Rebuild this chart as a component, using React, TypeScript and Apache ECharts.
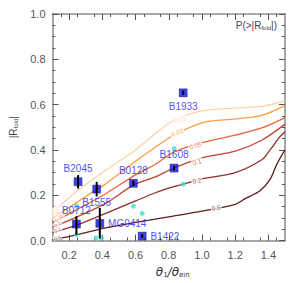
import React, { useEffect, useRef } from "react";
import * as echarts from "echarts";

// Lens systems
const lensNames = ["B1933", "B1608", "B0128", "B2045", "B1555", "B0712", "MG0414", "B1422"];
const lensX = [0.887, 0.832, 0.587, 0.254, 0.366, 0.244, 0.385, 0.64];
const lensY = [0.652, 0.32, 0.253, 0.26, 0.227, 0.073, 0.076, 0.02];
const lensLow = [0.642, 0.31, 0.241, 0.23, 0.195, 0.026, 0.009, 0.012];
const lensHigh = [0.662, 0.33, 0.265, 0.289, 0.259, 0.108, 0.144, 0.028];
const lensLabelPos = ["bottom", "top", "top", "top", "bottom", "top", "right", "right"];

// Cyan points
const cyanX = [0.244, 0.245, 0.362, 0.395, 0.587, 0.64, 0.832, 0.887];
const cyanY = [0.026, 0.152, 0.012, 0.012, 0.152, 0.12, 0.406, 0.249];

// Contours of P(>|R_fold|)
const contourLevels = ["0.01", "0.02", "0.05", "0.1", "0.2", "0.5"];
const c001X = [0.1, 0.25, 0.42, 0.6, 0.715, 0.83, 1.0, 1.2, 1.36, 1.5];
const c001Y = [0.125, 0.22, 0.31, 0.4, 0.47, 0.53, 0.572, 0.585, 0.592, 0.618];
const c002X = [0.1, 0.25, 0.366, 0.42, 0.6, 0.715, 0.83, 1.0, 1.2, 1.36, 1.5];
const c002Y = [0.1, 0.17, 0.226, 0.25, 0.35, 0.41, 0.465, 0.52, 0.537, 0.553, 0.596];
const c005X = [0.1, 0.25, 0.42, 0.6, 0.715, 0.83, 1.0, 1.2, 1.36, 1.5];
const c005Y = [0.08, 0.138, 0.207, 0.29, 0.335, 0.39, 0.432, 0.465, 0.497, 0.543];
const c01X = [0.1, 0.25, 0.42, 0.587, 0.715, 0.83, 1.0, 1.2, 1.36, 1.5];
const c01Y = [0.06, 0.105, 0.164, 0.245, 0.28, 0.32, 0.365, 0.395, 0.443, 0.514];
const c02X = [0.1, 0.25, 0.42, 0.6, 0.715, 0.83, 0.887, 1.0, 1.2, 1.36, 1.41, 1.46, 1.5];
const c02Y = [0.035, 0.069, 0.12, 0.175, 0.21, 0.238, 0.249, 0.272, 0.3, 0.357, 0.4, 0.45, 0.48];
const c05X = [0.1, 0.25, 0.42, 0.6, 0.8, 1.0, 1.2, 1.26, 1.35, 1.41, 1.45, 1.5];
const c05Y = [0.003, 0.026, 0.056, 0.08, 0.105, 0.13, 0.16, 0.185, 0.22, 0.27, 0.336, 0.4];
const contourXs = [c001X, c002X, c005X, c01X, c02X, c05X];
const contourYs = [c001Y, c002Y, c005Y, c01Y, c02Y, c05Y];
const contourColors = ["#fdd3a4", "#fb9d3e", "#e9643a", "#c04536", "#922f2c", "#5b1f1d"];

// contour label anchors (data coords)
const midLabelX = [0.868, 0.85, 0.96, 0.97, 0.97, 1.085];
const midLabelY = [0.534, 0.478, 0.42, 0.348, 0.265, 0.145];
const midLabelRot = [14, 20, 16, 14, 10, 8];
const leftLabelX = [0.115, 0.122, 0.14, 0.13, 0.13, 0.13];
const leftLabelY = [0.14, 0.115, 0.1, 0.072, 0.047, 0.012];
const leftLabelRot = [55, 50, 40, 32, 25, 15];

const xMajor = [0.2, 0.4, 0.6, 0.8, 1.0, 1.2, 1.4];
const yMajor = [0, 0.2, 0.4, 0.6, 0.8, 1.0];

const FONT = "Liberation Sans";

export default function App() {
  const ref = useRef<HTMLDivElement>(null);
  useEffect(() => {
    if (!ref.current) return;
    const chart = echarts.init(ref.current, null, { renderer: "svg" });
    const axisLineStyle = { color: "#8a8a8a", width: 1.5 };
    const tickStyle = { color: "#555", width: 1 };
    const mkX = (pos: string, labels: boolean) => ({
      type: "value",
      position: pos,
      min: 0.1,
      max: 1.5,
      interval: 0.2,
      axisLine: { show: true, onZero: false, lineStyle: axisLineStyle },
      axisTick: { show: true, inside: true, length: 6, customValues: xMajor, lineStyle: tickStyle },
      minorTick: { show: true, splitNumber: 4, length: 3, lineStyle: tickStyle },
      axisLabel: {
        show: labels,
        customValues: xMajor,
        formatter: (v: number) => v.toFixed(1),
        color: "#555",
        fontSize: 11,
        fontFamily: FONT,
        margin: 9,
      },
      splitLine: { show: false },
      minorSplitLine: { show: false },
    });
    const mkY = (pos: string, labels: boolean) => ({
      type: "value",
      position: pos,
      min: 0,
      max: 1,
      interval: 0.2,
      axisLine: { show: true, onZero: false, lineStyle: axisLineStyle },
      axisTick: { show: true, inside: true, length: 6, customValues: yMajor, lineStyle: tickStyle },
      minorTick: { show: true, splitNumber: 4, length: 3, lineStyle: tickStyle },
      axisLabel: {
        show: labels,
        customValues: yMajor,
        formatter: (v: number) => v.toFixed(1),
        color: "#555",
        fontSize: 11,
        fontFamily: FONT,
        margin: 7,
      },
      splitLine: { show: false },
      minorSplitLine: { show: false },
    });

    const xAxisBottom: any = mkX("bottom", true);
    xAxisBottom.name = "θ{s|1}/θ{s|ein}";
    xAxisBottom.nameLocation = "middle";
    xAxisBottom.nameGap = 24;
    xAxisBottom.nameTextStyle = {
      fontSize: 12,
      fontStyle: "italic",
      color: "#333",
      fontFamily: "DejaVu Sans",
      padding: [0, 0, 0, 8],
      rich: { s: { fontSize: 7, fontStyle: "normal", color: "#333", padding: [6, 0, 0, 0] } },
    };
    const yAxisLeft: any = mkY("left", true);
    yAxisLeft.name = "|R{s|fold}|";
    yAxisLeft.nameLocation = "middle";
    yAxisLeft.nameGap = 34;
    yAxisLeft.nameRotate = 90;
    yAxisLeft.nameTextStyle = {
      fontSize: 10,
      color: "#444",
      fontFamily: FONT,
      padding: [0, 0, 0, 0],
      rich: { s: { fontSize: 6, color: "#444", padding: [5, 0, 0, 0] } },
    };

    const series: any[] = [];
    contourLevels.forEach((lvl, i) => {
      series.push({
        type: "line",
        name: lvl,
        xAxisIndex: 0,
        yAxisIndex: 0,
        data: contourXs[i].map((x, j) => [x, contourYs[i][j]]),
        smooth: 0.3,
        showSymbol: false,
        symbol: "none",
        lineStyle: { color: contourColors[i], width: 1.3 },
        z: 2,
      });
    });
    // contour labels
    const labelData: any[] = [];
    contourLevels.forEach((lvl, i) => {
      labelData.push({
        name: lvl,
        value: [midLabelX[i], midLabelY[i]],
        label: { rotate: midLabelRot[i], color: contourColors[i], fontSize: 6.5 },
      });
      labelData.push({
        name: lvl,
        value: [leftLabelX[i], leftLabelY[i]],
        label: { rotate: leftLabelRot[i], color: contourColors[i], fontSize: 5 },
      });
    });
    series.push({
      type: "scatter",
      data: labelData,
      symbolSize: 0,
      silent: true,
      z: 3,
      label: {
        show: true,
        position: "inside",
        formatter: "{b}",
        fontFamily: FONT,
        backgroundColor: "#fff",
        padding: [0, 1],
      },
    });
    // cyan points
    series.push({
      type: "scatter",
      data: cyanX.map((x, i) => [x, cyanY[i]]),
      symbol: "circle",
      symbolSize: 5,
      itemStyle: { color: "#3fe0d0" },
      z: 4,
    });
    // lens squares
    series.push({
      type: "scatter",
      data: lensX.map((x, i) => ({
        name: lensNames[i],
        value: [x, lensY[i]],
        label: { position: lensLabelPos[i] },
      })),
      symbol: "rect",
      symbolSize: 8,
      itemStyle: { color: "#1414e8", borderColor: "#000060", borderWidth: 0.5 },
      label: {
        show: true,
        formatter: "{b}",
        color: "#2222ff",
        fontSize: 10,
        fontFamily: FONT,
        distance: 4,
      },
      z: 5,
    });
    // error bars
    series.push({
      type: "custom",
      data: lensX.map((x, i) => [x, lensLow[i], lensHigh[i]]),
      renderItem: (params: any, api: any) => {
        const x = api.value(0);
        const lo = api.coord([x, api.value(1)]);
        const hi = api.coord([x, api.value(2)]);
        return {
          type: "line",
          shape: { x1: lo[0], y1: lo[1], x2: hi[0], y2: hi[1] },
          style: { stroke: "#000", lineWidth: 2 },
        };
      },
      z: 6,
    });

    chart.setOption({
      animation: false,
      backgroundColor: "#fff",
      grid: { left: 45, right: 15, top: 14, bottom: 36, containLabel: false },
      xAxis: [xAxisBottom, mkX("top", false)],
      yAxis: [yAxisLeft, mkY("right", false)],
      graphic: [
        {
          type: "text",
          right: 23,
          top: 20,
          style: {
            text: "P(>|R{s|fold}|)",
            fill: "#444",
            font: `10px ${FONT}`,
            rich: { s: { fontSize: 6, fill: "#444", padding: [5, 0, 0, 0] } },
          },
          z: 10,
        },
      ],
      series,
    });
    return () => chart.dispose();
  }, []);
  return <div ref={ref} style={{ position: "fixed", left: 0, top: 0, width: 300, height: 283 }} />;
}
